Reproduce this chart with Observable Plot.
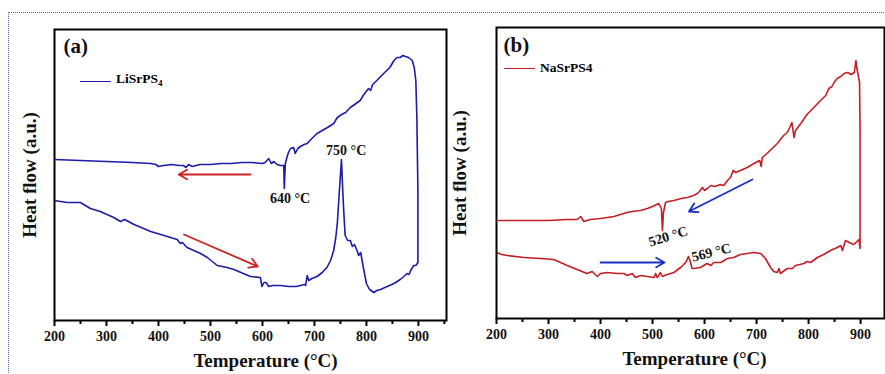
<!DOCTYPE html>
<html><head><meta charset="utf-8">
<script src="https://cdn.jsdelivr.net/npm/d3@7"></script>
<script src="https://cdn.jsdelivr.net/npm/@observablehq/plot@0.6"></script>
<style>
body{margin:0;background:#fff;}
#wrap{position:relative;width:885px;height:374px;overflow:hidden;background:#fff;font-family:"Liberation Serif",serif;}
#dots{position:absolute;left:8px;top:12px;right:-5px;bottom:-5px;border-top:1.5px dotted #4a6cc0;border-left:1.5px dotted #4a6cc0;}
.panel{position:absolute;top:0;}
.panel svg text{font-weight:bold;}
.legend{position:absolute;display:flex;align-items:center;font-weight:bold;font-size:13.5px;height:14px;line-height:14px;white-space:nowrap;}
.legend .sw{display:inline-block;width:31px;height:0;border-top:1.8px solid;margin-right:5px;}
.legend sub{font-size:9px;vertical-align:-3px;}
</style></head>
<body>
<div id="wrap">
  <div id="dots"></div>
  <div id="pa" class="panel" style="left:0;width:450px"></div>
  <div id="pb" class="panel" style="left:440px;width:445px"></div>
  <div class="legend" style="left:80px;top:74px"><span class="sw" style="border-color:#1c1ca8"></span><span>LiSrPS<sub>4</sub></span></div>
  <div class="legend" style="left:504px;top:61px"><span class="sw" style="border-color:#c41e24"></span><span>NaSrPS4</span></div>
</div>
<script>
// ---- data (temperature °C, heat flow a.u.) ----
const majorTicks = [200, 300, 400, 500, 600, 700, 800, 900];
const minorTicks = [250, 350, 450, 550, 650, 750, 850, 950];
const xTitle = "Temperature (\u00B0C)";
const yTitle = "Heat flow (a.u.)";

const liHeating = [[200,120],[212,119],[224,118],[250,118],[269,112],[288,109],[314,103],[327,99],[335,101],[353,96],[385,89],[417,84],[436,81],[442,77],[446,78],[455,73],[481,67],[494,63],[513,55],[532,53],[545,51],[577,44],[596,43],[599,34],[603,38],[607,38],[612,34],[620,35],[635,35],[650,34],[665,34],[681,36],[683,35],[686,45],[689,40],[695,42],[705,44],[715,48],[724,53],[731,60],[737,70],[741,83],[744,97],[748,130],[752,161],[754,135],[756,113],[759,85],[764,80],[769,80],[773,74],[777,76],[782,70],[785,65],[789,68],[794,53],[800,37],[806,31],[814,28],[820,30],[827,31],[840,34],[853,37],[865,41],[872,44],[878,47],[882,46],[885,50],[891,55],[895,55],[899,58]];
const liCooling = [[899,58],[899,130],[897,203],[895,240],[892,253],[888,260],[881,263],[875,264],[870,265],[865,263],[859,263],[853,260],[845,253],[833,247],[820,240],[812,236],[808,230],[804,232],[801,230],[795,226],[788,220],[780,217],[769,213],[760,208],[752,206],[747,204],[744,203],[737,197],[725,193],[715,190],[705,187],[695,182],[686,177],[680,176],[673,174],[668,172],[663,167],[660,173],[654,172],[650,168],[647,163],[644,157],[642,132],[641,155],[635,155],[628,156],[622,159],[617,157],[612,162],[605,158],[600,157],[580,158],[560,158],[540,157],[520,157],[500,156],[480,156],[465,154],[458,156],[453,153],[448,155],[440,155],[425,156],[410,155],[400,154],[395,156],[385,157],[350,158],[300,159],[250,160],[200,161]];
const liArrows = [{x1:577,y1:146,x2:439,y2:146},{x1:449,y1:86,x2:591,y2:54}];
const liNotes = [{T:653,v:122,label:"640 \u00B0C",rot:0},{T:761,v:170,label:"750 \u00B0C",rot:0}];

const naHeating = [[200,66],[210,64],[221,63],[253,61],[285,60],[310,59],[323,56],[336,53],[355,49],[374,45],[384,47],[390,44],[394,42],[400,45],[413,46],[432,45],[445,45],[451,43],[461,45],[467,41],[477,43],[490,42],[503,41],[506,45],[509,41],[512,43],[515,46],[519,42],[528,44],[541,46],[554,51],[560,54],[565,57],[569,62],[572,58],[576,50],[579,50],[592,51],[605,55],[612,53],[618,56],[631,56],[644,60],[656,61],[669,64],[682,65],[695,66],[708,65],[717,60],[727,51],[733,47],[740,46],[743,50],[746,45],[759,50],[769,50],[775,53],[791,55],[797,57],[804,56],[817,61],[829,64],[842,68],[855,71],[862,73],[865,68],[871,78],[878,76],[887,74],[897,79],[899,70]];
const naCooling = [[899,70],[899,190],[898,236],[893,250],[891,258],[888,246],[882,244],[875,246],[868,245],[862,242],[855,240],[849,236],[845,232],[839,230],[833,223],[823,218],[810,211],[797,204],[785,195],[775,188],[772,181],[768,196],[762,189],[759,186],[752,183],[746,179],[740,175],[730,170],[720,165],[711,161],[709,152],[706,158],[695,155],[682,151],[669,148],[660,146],[655,148],[650,141],[644,138],[637,133],[630,134],[620,132],[612,133],[605,130],[600,128],[596,131],[590,127],[586,125],[579,123],[567,121],[555,120],[541,118],[530,117],[525,116],[521,106],[519,88],[517,110],[512,115],[508,114],[500,112],[490,110],[477,108],[460,107],[451,106],[438,104],[426,102],[413,101],[400,100],[380,99],[368,97],[362,102],[355,99],[336,99],[300,98],[250,98],[204,98]];
const naArrows = [{x1:692,y1:139,x2:570,y2:107},{x1:400,y1:56,x2:523,y2:56}];
const naNotes = [{T:530,v:82,label:"520 \u00B0C",rot:-17},{T:613,v:66,label:"569 \u00B0C",rot:-14}];

function panel(o) {
  return Plot.plot({
    width: o.width, height: 374,
    marginLeft: o.ml, marginRight: o.mr, marginTop: o.mt, marginBottom: o.mb,
    style: {background: "transparent", fontFamily: "Liberation Serif", fontWeight: "bold", overflow: "visible"},
    x: {domain: [200, o.xMax]},
    y: {domain: [0, 291], axis: null},
    marks: [
      Plot.axisX({ticks: majorTicks, tickSize: 6, tickPadding: 5, tickFormat: d => String(d), fontSize: 14, fontWeight: "bold", fill: "#111", stroke: "#000", strokeWidth: 2, label: null}),
      Plot.axisX({ticks: minorTicks, tickSize: 4, tickFormat: () => "", stroke: "#000", strokeWidth: 2, label: null}),
      Plot.line([...o.heat, ...o.cool], {x: d => d[0], y: d => d[1], stroke: o.color, strokeWidth: 1.6}),
      Plot.arrow(o.arrows, {x1: "x1", y1: "y1", x2: "x2", y2: "y2", stroke: o.arrowColor, strokeWidth: 1.8, headLength: 8}),
      Plot.text(o.notes, {x: "T", y: "v", text: "label", rotate: "rot", fontSize: 14, fontWeight: "bold", fill: "#111"}),
      Plot.text([xTitle], {text: d => d, frameAnchor: "bottom", lineAnchor: "middle", textAnchor: "middle", dy: 40, dx: o.titleDx, fontSize: 19, fontWeight: "bold", fill: "#111"}),
      Plot.text([yTitle], {text: d => d, frameAnchor: "left", textAnchor: "middle", lineAnchor: "middle", rotate: -90, dx: o.yTitleDx, fontSize: 19, fontWeight: "bold", fill: "#111"}),
      Plot.text([o.tag], {text: d => d, frameAnchor: "top-left", dx: o.tagDx, dy: o.tagDy, lineAnchor: "top", textAnchor: "start", fontSize: 21, fontWeight: "bold", fill: "#111"}),
      Plot.frame({stroke: "black", strokeWidth: 2})
    ]
  });
}

document.getElementById("pa").append(panel({
  width: 450, ml: 54, mr: 4, mt: 29, mb: 54, xMax: 954,
  heat: liHeating, cool: liCooling, color: "#1c1ca8",
  arrows: liArrows, arrowColor: "#cc2222", notes: liNotes,
  titleDx: 15, yTitleDx: -25, tag: "(a)", tagDx: 9, tagDy: 9
}));
document.getElementById("pb").append(panel({
  width: 445, ml: 56, mr: 1, mt: 27, mb: 56, xMax: 946,
  heat: naHeating, cool: naCooling, color: "#c41e24",
  arrows: naArrows, arrowColor: "#1a30c8", notes: naNotes,
  titleDx: 4, yTitleDx: -37, tag: "(b)", tagDx: 7, tagDy: 10
}));
</script>
</body></html>
